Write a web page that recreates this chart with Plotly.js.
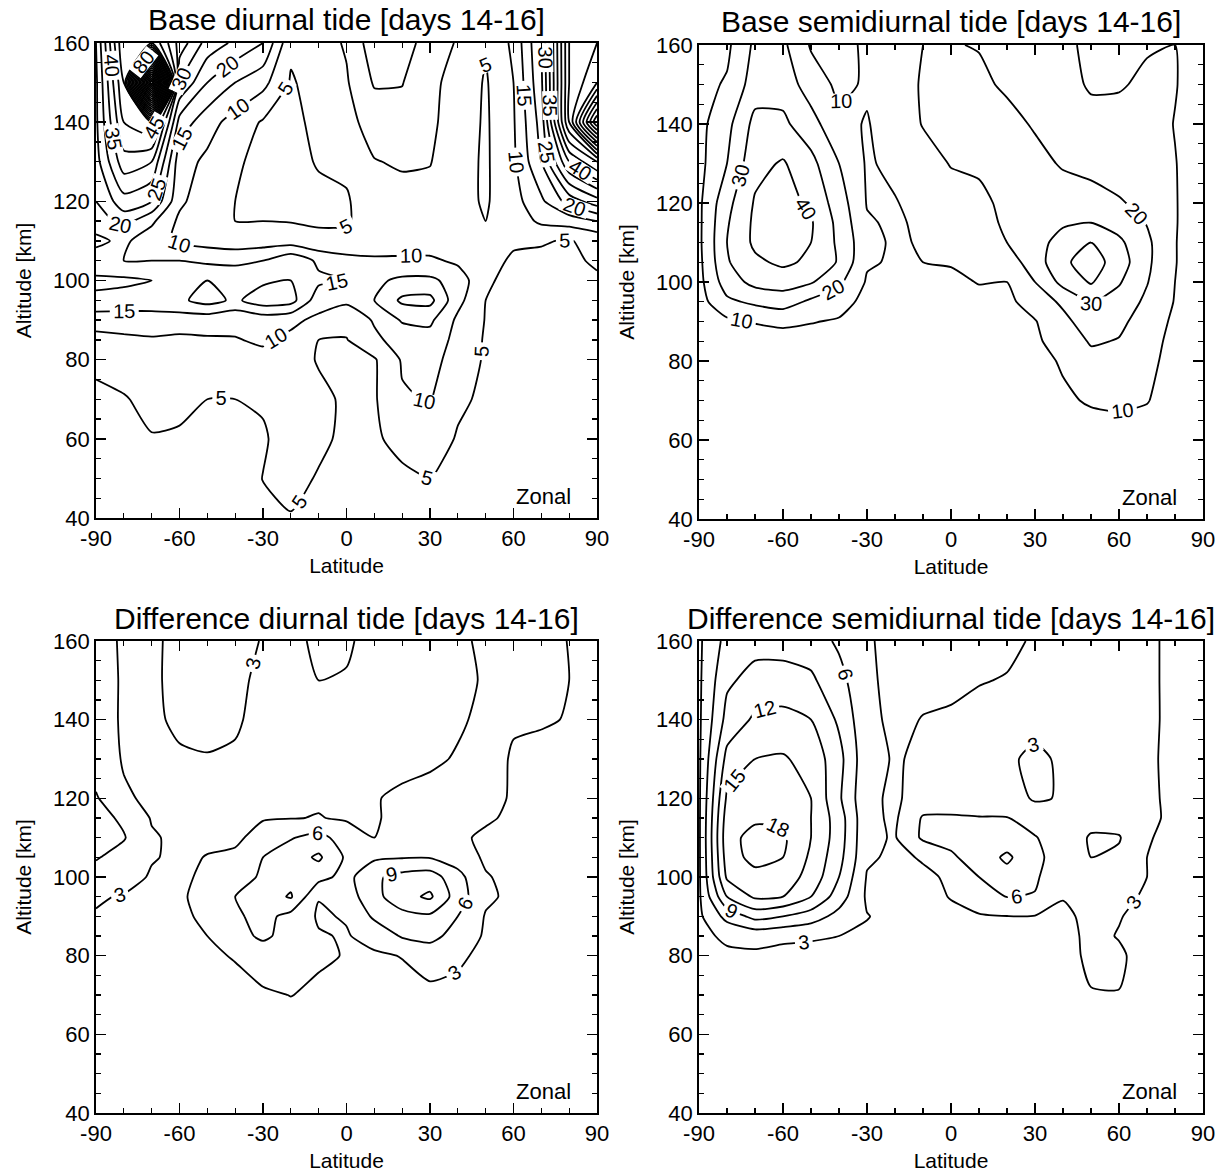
<!DOCTYPE html>
<html>
<head>
<meta charset="utf-8">
<script src="https://cdn.plot.ly/plotly-3.0.1.min.js"></script>
<style>html,body{margin:0;padding:0;background:#fff;}</style>
</head>
<body>
<div id="chart" style="width:1227px;height:1173px;"></div>
<script>
// ---------------- data ----------------
const latitude = [-90,-80,-70,-60,-50,-40,-30,-20,-10,0,10,20,30,40,50,60,70,80,90];
const altitude = [40,50,60,70,80,85,90,95,100,105,110,115,120,130,140,150,160];

const latTickVals = [-90,-60,-30,0,30,60,90];
const latTickText = ['-90','-60','-30','0','30','60','90'];
const altTickVals = [40,60,80,100,120,140,160];
const altTickText = ['40','60','80','100','120','140','160'];

const panelTitles = [
  'Base diurnal tide [days 14-16]',
  'Base semidiurnal tide [days 14-16]',
  'Difference diurnal tide [days 14-16]',
  'Difference semidiurnal tide [days 14-16]'
];
const componentLabel = 'Zonal';
const xTitle = 'Latitude';
const yTitle = 'Altitude [km]';

// Base diurnal tide amplitude (rows = altitude, cols = latitude)
const baseDiurnal = [
  [2,2,2,2,2,2.5,3.5,4.7,3.8,2,2,2,2,2,2,2,2,2,2],
  [2,2,2.5,2.5,3,3.5,5.1,6.5,4.6,2.5,2.5,4,5.1,3.5,2.5,2,2,2,2],
  [2.5,3.5,4.7,4.5,3.5,3.5,4.5,7,6,4,4.3,6.5,8,4.5,3,2.5,2.5,2.5,2.5],
  [3.5,4.6,6.5,6,5,5,5.5,8,6.5,4,4.5,9.5,10.3,6,4,3,2.5,2.5,2.5],
  [6.5,7.5,8,7.5,8,8.5,9,8,4.5,3.5,4.5,10.5,12,7.5,4.5,3.5,3,3,3],
  [8.5,9,9.5,9,9.5,9.8,10.5,9,5,4.8,9,12,13,8.5,4.5,3.5,3,3,3],
  [12,12.5,12.5,12.5,12,11,12,11,9,6.5,10.5,15.5,16,9,4.8,3.5,3,3,3],
  [19,18,18,19,22,19,23,22,12,11,15,21,21.5,11.5,5,3.5,3,3,3],
  [21,21,20,20,20,18,19,20,16,15,14,16,16,13,5.5,4,3.5,4,4.5],
  [17,15,15,15,14,14,15,19,14,12,11,11,11,9,5.5,4.8,4.5,4.3,5.5],
  [14,16,12,9,8,7,7.5,7.5,6,5.5,6.5,7,7,6.5,5.3,5.2,5.2,4.8,6],
  [17,22,16,9,6,5,5,4.8,4.5,4.8,6,6.5,6.5,6,5,7,11,12,15],
  [20,28,25,11,7,5,4,3.5,3.5,4.5,8,8.5,8.5,6.5,4.5,8,14,22,28],
  [23,38,35,12,9,5.5,4,3,5.5,6,9.8,10.5,10.2,7,4.3,9,20,40,50],
  [24,45,50,18,12,8,4.5,3.5,6.5,8.5,12,13,10.8,8,4.3,9.5,22,60,100],
  [24,50,150,30,20,15,11.5,4.5,7,9.5,15.5,15.2,11,8.5,4.5,10,24,60,70],
  [25,55,55,38,28,24,20,6,8,10.5,18,17,13,9.5,5.5,11,25,60,65]
];

// Base semidiurnal tide amplitude
const baseSemidiurnal = [
  [2,2,2,2,2,2,2,2,2,2,2,2,2,2,2,2,2,2,2],
  [2,2,2,2,2,2,2,2,2,2,2,2,2.5,3,3,3,3,2.5,2],
  [2,2.5,2.5,2.5,2.5,2.5,2.5,2.5,2.5,2.5,2.5,2.5,3,4,5,5,5,3,2],
  [2.5,3,3,3,3,3,3,3,3,3,3,3.5,4,8.5,11,12,10.5,5,3],
  [3,3,4,4,4,3.5,3,3,3,3,3.5,3.5,7,11,17,17,13,6,4],
  [3.5,5,6,7,6,5,4,3.5,3.5,4,4.5,4.5,8.5,14,21,19.5,14,7,4.5],
  [4,8,10.5,11.5,10.5,9,5,4,4.5,5,6,6,9.5,17,26,22,16,8,5],
  [6,18,22,25,18,14,7,5,6,6.5,8,8,14,22,31,26,18,9.5,6],
  [7,25,33,34,31,22,9,6,8,8.5,10.3,10,20,33,41,31,20.5,10,7],
  [7.5,29,38,42,38,29,11,9,10,10.5,12,15,25,38,45,35,22,10.2,7],
  [8,30,42,46,40,28,13,8.5,11,13,14,20,27,33,40,32,22,10.2,7],
  [8,29,42,45,41,27,11,8.5,12,14.5,15.5,22,27,29,30,26,19.5,10.3,7],
  [8,27,41,44,38,25,9.5,9.5,13,16,17,23,26,25,24,21,17,10.3,7],
  [7,20,37,41,33,20,9,12,16,20.5,22,25,23,19,17,15,14,10.2,7],
  [7,17,33,32,24,12,9.5,14,20.5,23,24,23,19,16,13,12,12.5,9.8,7],
  [7,11,25,26,15,8,11,15,21,22.5,22,18.5,15,13,9,9.5,11,10.3,7],
  [7,8,22,22,9,6,12,16,20,20.5,19.5,15,13,12,8,7,9.5,10,7]
];

// Difference diurnal tide amplitude
const diffDiurnal = [
  [1.5,1.5,1.5,1.5,1.5,1.5,1.5,1.5,1.5,1.5,1.5,1.5,1.5,1.5,1.5,1.5,1.5,1.5,1.5],
  [1.5,1.5,1.5,1.5,1.5,1.5,1.5,1.5,1.5,1.5,1.5,1.5,1.5,1.5,1.5,1.5,1.5,1.5,1.5],
  [1.8,1.8,1.8,1.8,1.8,1.8,1.8,1.8,1.8,1.8,1.8,1.8,1.8,1.8,1.8,1.8,1.8,1.8,1.8],
  [2,2,2,2,2,2,2.6,3.05,2.6,2,2,2,2.2,2.2,2,2,2,2,2],
  [2,2,2,2.2,2.5,3.2,4.5,4.5,3.3,2.9,2.6,3.1,4.5,3.5,2.3,2,2,2,2],
  [2.2,2.2,2.2,2.8,3,5,6.5,5,3.2,2.8,4,6.3,6.8,5,2.6,2.1,2,2,2],
  [2.8,2.4,2.2,2.4,3.6,5.5,7,5,2.7,3.2,6.5,8,8.5,6,2.8,2.2,2.1,2,2],
  [3.3,2.8,2.4,2.6,4,6,7.5,9.3,3.1,4.5,8,11,12.5,7.5,3.5,2.4,2.2,2.1,2],
  [5,4.2,2.7,2.7,3.3,4.5,6.5,8,7,5,8.5,10,10.5,7,3.2,2.3,2.2,2.1,2.1],
  [6.2,5,3.2,2.5,3.1,3.3,6,7.5,9.5,5.5,5.5,5.8,5.8,4.5,2.6,2.2,2.1,2.1,2.1],
  [6.8,6.2,3.3,2.4,2.5,2.7,3.6,5.8,7,4.5,3,3.5,3.8,3.4,2.6,2.3,2.2,2.1,2.1],
  [7,5.5,2.8,2.3,2.3,2.5,2.9,2.9,3.1,2.7,2.8,3.6,4.2,4,3.3,2.6,2.3,2.2,2.2],
  [6.3,3.3,2.6,2.4,2.4,2.4,2.5,2.6,2.7,2.8,2.9,3.3,3.8,4,3.6,2.8,2.3,2.2,2.2],
  [4.5,2.8,2.5,2.8,2.9,2.8,2.4,2.3,2.3,2.3,2.4,2.5,2.6,3.2,3.8,2.8,2.4,2.3,2.3],
  [4.5,2.6,2.7,3.3,3.5,3.2,2.5,2.3,2.3,2.3,2.3,2.4,2.5,2.7,3.5,3.2,3.2,2.9,2.5],
  [5,2.5,2.7,3.5,3.9,3.4,2.6,2.4,3,2.9,2.3,2.3,2.3,2.5,3.2,4,4,3,2.4],
  [4.5,2.5,2.6,3.6,4,3.6,2.9,2.6,3.3,3.2,2.5,2.3,2.3,2.5,3.5,3.8,4,2.9,2.5]
];

// Difference semidiurnal tide amplitude
const diffSemidiurnal = [
  [1.5,1.5,1.5,1.5,1.5,1.5,1.5,1.5,1.5,1.5,1.5,1.5,1.5,1.5,1.5,1.5,1.5,1.5,1.5],
  [1.5,1.5,1.5,1.5,1.5,1.5,1.5,1.5,1.5,1.5,1.5,1.5,1.5,1.5,1.5,1.5,1.5,1.5,1.5],
  [1.8,1.8,1.8,1.8,1.8,1.8,1.8,1.8,1.8,1.8,1.8,1.8,1.8,1.8,1.8,1.8,1.8,1.8,1.8],
  [2,2,2,2,2,2,2,2,2,2,2,2,2,2,2.9,2.95,2,2,2],
  [2.2,2.5,2.5,2.3,2.2,2.2,2,2,2,2,2,2,2,2.3,3.4,3.3,2.2,2,2],
  [2.3,3.5,4,3.5,3.3,3,2.6,2.2,2.1,2.1,2.3,2.3,2.3,2.3,3.5,2.9,2.2,2.1,2],
  [2.4,7,10,9,7.5,5,3.1,2.2,2.2,2.5,2.8,2.95,2.9,2.6,3.5,3.1,2.4,2.1,2],
  [2.5,12,15.5,15,12,7.5,2.6,2.2,2.3,3.1,4.2,6.1,5.8,3.1,3.4,3.4,2.8,2.2,2.1],
  [2.5,15.5,17,16.5,14,9,2.8,2.3,2.6,3.3,6,8,6.5,3.4,3.8,4,3,2.2,2.2],
  [2.5,16.5,19,18,14.5,10,3.4,2.5,3.2,5.5,7.5,9.5,7,4,6,5.5,3,2.3,2.2],
  [2.5,17,19,18.5,15,10.5,3.5,2.8,6.5,7,6.5,7.5,6.2,4.2,6.3,6.2,3.2,2.3,2.2],
  [2.5,16.5,17.5,17.5,15,10.5,3.6,2.6,6.3,6.3,6.1,6.1,4.5,3.1,5,4.8,3.6,2.4,2.2],
  [2.5,15.5,16.5,17,15,9.5,3.5,2.6,4.2,4.6,4.8,4.2,2.7,3.2,4.3,4.5,3.5,2.4,2.2],
  [2.5,13,15,15.3,14,10,3.8,2.8,3.4,3.8,4,3.3,2.6,3.3,4,4,3.4,2.4,2.2],
  [2.5,10,12.5,13,12,8.5,3.7,2.4,3.1,3.3,3.6,3.7,3.6,3.8,4,4,3.5,2.4,2.2],
  [2.5,8.5,10,10,9.5,7,3.5,2.2,2.3,2.5,2.9,3.1,3.5,3.8,3.9,3.9,3.4,2.5,2.2],
  [2.5,7,8,8,7.5,5.5,3.3,2.2,2.2,2.2,2.3,2.6,3.2,3.6,3.8,3.9,3.4,2.5,2.2]
];

// contour levels: [start, end, step]
const levelsBaseDiurnal = [5, 300, 5];
const levelsBaseSemidiurnal = [10, 40, 10];
const levelsDiffDiurnal = [3, 12, 3];
const levelsDiffSemidiurnal = [3, 18, 3];

// ---------------- drawing ----------------
const FONT = 'Liberation Sans, Arial, Helvetica, sans-serif';
const W = 1227, H = 1173;
// panel frames in pixels [x0, x1, y0(top), y1(bottom)]
const frames = [
  [96, 597, 43, 518],
  [699, 1203, 45, 519],
  [96, 597, 641, 1113],
  [699, 1203, 641, 1113]
];

function contourTrace(z, lv, idx) {
  const s = idx === 0 ? '' : String(idx + 1);
  return {
    type: 'contour', x: latitude, y: altitude, z: z,
    xaxis: 'x' + s, yaxis: 'y' + s,
    autocontour: false,
    contours: {coloring: 'lines', start: lv[0], end: lv[1], size: lv[2],
      showlabels: true, labelfont: {family: FONT, size: 20, color: '#000'}},
    line: {width: 1.8, smoothing: 0.6},
    colorscale: [[0, '#000'], [1, '#000']],
    showscale: false, hoverinfo: 'skip'
  };
}

const traces = [
  contourTrace(baseDiurnal, levelsBaseDiurnal, 0),
  contourTrace(baseSemidiurnal, levelsBaseSemidiurnal, 1),
  contourTrace(diffDiurnal, levelsDiffDiurnal, 2),
  contourTrace(diffSemidiurnal, levelsDiffSemidiurnal, 3)
];

const layout = {
  width: W, height: H,
  margin: {l: 0, r: 0, t: 0, b: 0},
  paper_bgcolor: '#fff', plot_bgcolor: '#fff',
  showlegend: false,
  font: {family: FONT, color: '#000'},
  annotations: []
};

frames.forEach((f, i) => {
  const s = i === 0 ? '' : String(i + 1);
  const xd = [f[0] / W, f[1] / W];
  const yd = [1 - f[3] / H, 1 - f[2] / H];
  layout['xaxis' + s] = {
    domain: xd, anchor: 'y' + s, range: [-90, 90],
    tickmode: 'array', tickvals: latTickVals, ticktext: latTickText,
    ticks: 'inside', ticklen: 10, tickwidth: 1.6, tickcolor: '#000',
    minor: {tickmode: 'linear', tick0: -90, dtick: 10, ticks: 'inside', ticklen: 5, tickwidth: 1.3, tickcolor: '#000'},
    showline: true, linecolor: '#000', linewidth: 1.8, mirror: 'ticks',
    showgrid: false, zeroline: false,
    tickfont: {family: FONT, size: 22, color: '#000'},
    title: {text: xTitle, font: {family: FONT, size: 21, color: '#000'}, standoff: 8}
  };
  layout['yaxis' + s] = {
    domain: yd, anchor: 'x' + s, range: [40, 160],
    tickmode: 'array', tickvals: altTickVals, ticktext: altTickText,
    ticks: 'inside', ticklen: 10, tickwidth: 1.6, tickcolor: '#000',
    minor: {tickmode: 'linear', tick0: 40, dtick: 5, ticks: 'inside', ticklen: 5, tickwidth: 1.3, tickcolor: '#000'},
    showline: true, linecolor: '#000', linewidth: 1.8, mirror: 'ticks',
    showgrid: false, zeroline: false,
    tickfont: {family: FONT, size: 22, color: '#000'},
    title: {text: yTitle, font: {family: FONT, size: 21, color: '#000'}, standoff: 16}
  };
  layout.annotations.push({
    text: panelTitles[i], xref: 'paper', yref: 'paper',
    x: (f[0] + f[1]) / 2 / W, y: 1 - (f[2] - 23) / H,
    xanchor: 'center', yanchor: 'middle', showarrow: false,
    font: {family: FONT, size: 30, color: '#000'}
  });
  layout.annotations.push({
    text: componentLabel, xref: 'paper', yref: 'paper',
    x: (f[1] - 24) / W, y: 1 - (f[3] - 22) / H,
    xanchor: 'right', yanchor: 'middle', showarrow: false,
    font: {family: FONT, size: 22, color: '#000'}
  });
});

Plotly.newPlot('chart', traces, layout, {staticPlot: true});
</script>
</body>
</html>
